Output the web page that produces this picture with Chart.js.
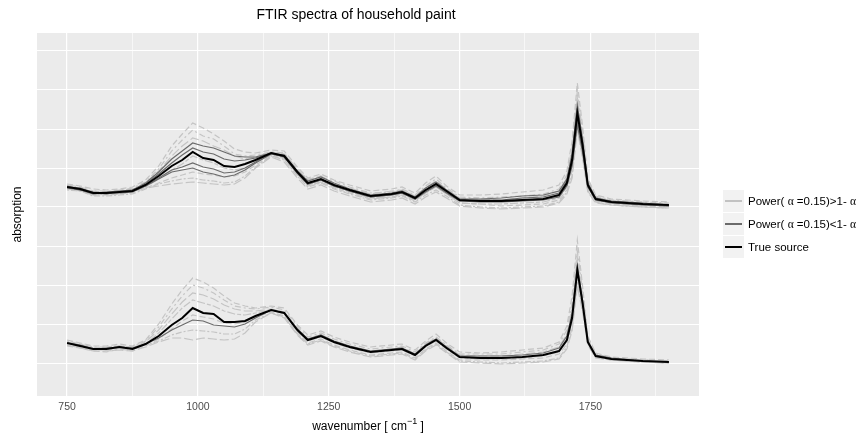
<!DOCTYPE html>
<html lang="en">
<head>
<meta charset="UTF-8">
<title>FTIR spectra of household paint</title>
<script src="https://cdn.jsdelivr.net/npm/chart.js"></script>
<style>
  * { margin: 0; padding: 0; box-sizing: border-box; }
  body { width: 862px; height: 434px; background: #fff; position: relative; overflow: hidden;
         font-family: "Liberation Sans", Arial, sans-serif; }
  #chart { position: absolute; left: 0; top: 0; }
  .legend { position: absolute; left: 723px; top: 189px; }
  .legend .item { display: flex; align-items: center; height: 23px; }
  .legend .key { width: 21px; height: 22px; background: #f2f2f2; position: relative; margin-right: 4px; }
  .legend .key span { position: absolute; left: 2px; right: 2px; top: 10px; height: 2px; }
  .legend .lbl { font-size: 11.5px; color: #000; white-space: nowrap; }
  .legend .a { font-family: "Liberation Serif", "DejaVu Serif", serif; }
</style>
</head>
<body>
<canvas id="chart" width="862" height="434"></canvas>
<div class="legend">
  <div class="item"><div class="key"><span style="background:#c2c2c2"></span></div><div class="lbl">Power( <span class="a">α</span> =0.15)&gt;1- <span class="a">α</span></div></div>
  <div class="item"><div class="key"><span style="background:#6b6b6b"></span></div><div class="lbl">Power( <span class="a">α</span> =0.15)&lt;1- <span class="a">α</span></div></div>
  <div class="item"><div class="key"><span style="background:#000"></span></div><div class="lbl">True source</div></div>
</div>

<script>
  // wavenumbers shared by every spectrum
  const wavenumber = [750, 775, 800, 825, 850, 875, 900, 925, 950, 970, 990, 1010, 1030, 1050, 1070, 1090, 1110, 1140, 1165, 1190,
    1210, 1235, 1260, 1290, 1330, 1370, 1390, 1415, 1435, 1455, 1475, 1500, 1540, 1580, 1620, 1660, 1690, 1705, 1715, 1725,
    1735, 1745, 1760, 1790, 1850, 1900];

  // upper set of spectra (shifted up)
  const trueUpper = [2.09,2.07,2.03,2.03,2.04,2.05,2.11,2.20,2.30,2.36,2.44,2.38,2.36,2.30,2.29,2.32,2.36,2.43,2.40,2.24,2.13,2.17,2.11,2.06,2.00,2.02,2.04,1.98,2.06,2.12,2.05,1.96,1.95,1.95,1.96,1.97,2.01,2.13,2.36,2.83,2.51,2.11,1.97,1.94,1.92,1.91];
  const darkUpper1 = [2.09,2.08,2.03,2.04,2.05,2.06,2.13,2.24,2.37,2.45,2.53,2.50,2.48,2.44,2.40,2.39,2.39,2.43,2.41,2.25,2.15,2.19,2.13,2.07,2.01,2.03,2.05,1.99,2.08,2.14,2.06,1.97,1.97,1.98,2.00,2.01,2.05,2.17,2.42,2.91,2.56,2.13,1.98,1.95,1.93,1.91];
  const darkUpper2 = [2.10,2.07,2.04,2.03,2.04,2.06,2.12,2.22,2.33,2.41,2.48,2.44,2.42,2.37,2.35,2.36,2.38,2.43,2.40,2.23,2.12,2.16,2.10,2.05,1.99,2.01,2.03,1.97,2.05,2.11,2.04,1.95,1.96,1.96,1.98,1.99,2.03,2.15,2.40,2.86,2.53,2.12,1.98,1.94,1.92,1.90];
  const darkUpper3 = [2.08,2.06,2.02,2.03,2.03,2.04,2.10,2.18,2.26,2.29,2.33,2.29,2.27,2.23,2.24,2.28,2.34,2.43,2.39,2.24,2.13,2.16,2.11,2.05,2.00,2.02,2.03,1.98,2.05,2.11,2.04,1.96,1.95,1.95,1.96,1.97,2.00,2.11,2.32,2.76,2.47,2.10,1.97,1.94,1.92,1.91];
  const darkUpper4 = [2.09,2.06,2.03,2.02,2.04,2.05,2.10,2.17,2.24,2.26,2.28,2.24,2.22,2.19,2.21,2.26,2.33,2.42,2.39,2.23,2.12,2.16,2.10,2.05,1.99,2.01,2.03,1.97,2.04,2.10,2.03,1.95,1.94,1.94,1.95,1.96,1.99,2.10,2.30,2.71,2.44,2.09,1.96,1.93,1.91,1.90];
  const lightUpper1 = [2.12,2.10,2.07,2.06,2.07,2.09,2.16,2.30,2.50,2.62,2.73,2.68,2.62,2.55,2.47,2.44,2.43,2.46,2.45,2.29,2.18,2.22,2.16,2.11,2.05,2.07,2.09,2.03,2.13,2.20,2.10,2.01,2.01,2.02,2.04,2.06,2.11,2.25,2.55,3.13,2.70,2.18,2.01,1.97,1.95,1.94];
  const lightUpper2 = [2.10,2.06,2.05,2.05,2.05,2.08,2.14,2.27,2.45,2.56,2.66,2.60,2.57,2.50,2.42,2.40,2.41,2.44,2.43,2.26,2.17,2.19,2.15,2.09,2.03,2.04,2.07,2.01,2.10,2.17,2.08,1.99,1.98,1.99,2.00,2.02,2.07,2.21,2.49,3.05,2.64,2.16,2.00,1.96,1.94,1.93];
  const lightUpper3 = [2.08,2.08,2.04,2.02,2.05,2.06,2.13,2.25,2.40,2.50,2.58,2.55,2.50,2.46,2.40,2.37,2.39,2.44,2.42,2.27,2.16,2.20,2.12,2.08,2.02,2.05,2.06,2.00,2.08,2.15,2.07,1.98,1.97,1.96,1.98,2.00,2.05,2.18,2.45,2.98,2.60,2.14,1.99,1.95,1.93,1.92];
  const lightUpper4 = [2.07,2.06,2.01,2.02,2.02,2.04,2.09,2.17,2.26,2.32,2.40,2.36,2.33,2.28,2.26,2.28,2.33,2.41,2.38,2.22,2.11,2.14,2.09,2.04,1.98,1.99,2.02,1.96,2.03,2.09,2.02,1.93,1.92,1.92,1.93,1.94,1.98,2.09,2.30,2.92,2.52,2.10,1.96,1.93,1.91,1.90];
  const lightUpper5 = [2.07,2.05,2.01,2.01,2.02,2.03,2.08,2.13,2.18,2.21,2.24,2.22,2.21,2.19,2.20,2.24,2.31,2.40,2.37,2.21,2.10,2.14,2.08,2.03,1.97,1.99,2.01,1.95,2.03,2.09,2.02,1.93,1.92,1.90,1.91,1.92,1.96,2.06,2.25,2.78,2.44,2.07,1.95,1.92,1.90,1.89];
  const lightUpper6 = [2.06,2.05,2.00,2.00,2.01,2.02,2.07,2.12,2.15,2.17,2.18,2.16,2.15,2.13,2.14,2.20,2.29,2.40,2.36,2.20,2.09,2.13,2.07,2.02,1.96,1.98,2.00,1.94,2.01,2.06,2.00,1.91,1.89,1.88,1.89,1.90,1.94,2.04,2.20,2.70,2.40,2.05,1.94,1.91,1.89,1.88];
  const lightUpper7 = [2.11,2.09,2.05,2.04,2.06,2.07,2.08,2.10,2.12,2.13,2.14,2.13,2.12,2.11,2.12,2.18,2.28,2.39,2.34,2.18,2.07,2.11,2.05,2.00,1.94,1.96,1.98,1.92,1.99,2.04,1.98,1.90,1.88,1.87,1.88,1.89,1.93,2.02,2.18,2.66,2.38,2.04,1.93,1.91,1.89,1.88];

  // lower set of spectra
  const trueLower = [0.53,0.50,0.47,0.47,0.49,0.47,0.52,0.60,0.71,0.78,0.88,0.83,0.82,0.74,0.74,0.75,0.80,0.86,0.83,0.66,0.56,0.60,0.54,0.49,0.44,0.46,0.47,0.41,0.50,0.56,0.48,0.39,0.38,0.38,0.39,0.41,0.45,0.56,0.78,1.26,0.93,0.54,0.40,0.37,0.35,0.34];
  const darkLower1 = [0.53,0.51,0.47,0.48,0.49,0.48,0.52,0.58,0.66,0.71,0.76,0.75,0.71,0.70,0.69,0.72,0.78,0.86,0.83,0.67,0.57,0.61,0.55,0.50,0.45,0.47,0.48,0.42,0.51,0.57,0.49,0.40,0.40,0.40,0.41,0.43,0.48,0.60,0.82,1.30,0.95,0.55,0.41,0.38,0.35,0.34];
  const lightLower1 = [0.56,0.53,0.50,0.50,0.52,0.50,0.56,0.72,0.92,1.06,1.18,1.14,1.08,1.00,0.93,0.90,0.88,0.90,0.88,0.71,0.61,0.65,0.59,0.54,0.49,0.51,0.52,0.46,0.55,0.62,0.53,0.44,0.43,0.44,0.46,0.48,0.54,0.70,1.00,1.56,1.10,0.60,0.43,0.39,0.37,0.36];
  const lightLower2 = [0.52,0.52,0.49,0.49,0.50,0.49,0.55,0.69,0.87,1.00,1.11,1.08,1.03,0.96,0.90,0.88,0.87,0.89,0.86,0.69,0.59,0.63,0.57,0.52,0.47,0.49,0.50,0.44,0.53,0.59,0.51,0.42,0.42,0.42,0.44,0.46,0.52,0.66,0.93,1.45,1.05,0.58,0.42,0.38,0.36,0.35];
  const lightLower3 = [0.54,0.51,0.48,0.46,0.50,0.48,0.54,0.66,0.82,0.94,1.03,1.01,0.97,0.91,0.87,0.85,0.85,0.87,0.84,0.67,0.57,0.61,0.55,0.50,0.45,0.47,0.49,0.42,0.52,0.58,0.50,0.41,0.40,0.40,0.42,0.44,0.49,0.62,0.88,1.38,1.01,0.57,0.42,0.38,0.36,0.35];
  const lightLower4 = [0.51,0.49,0.46,0.46,0.48,0.46,0.52,0.63,0.77,0.88,0.96,0.93,0.90,0.85,0.82,0.81,0.83,0.86,0.82,0.65,0.55,0.59,0.53,0.48,0.43,0.45,0.46,0.40,0.49,0.55,0.47,0.38,0.37,0.37,0.38,0.40,0.44,0.55,0.76,1.30,0.96,0.55,0.40,0.37,0.35,0.34];
  const lightLower5 = [0.50,0.48,0.45,0.44,0.47,0.45,0.50,0.57,0.67,0.75,0.81,0.79,0.77,0.73,0.72,0.74,0.79,0.84,0.80,0.63,0.53,0.57,0.51,0.46,0.41,0.43,0.44,0.38,0.47,0.53,0.45,0.36,0.36,0.36,0.37,0.38,0.42,0.52,0.72,1.20,0.90,0.53,0.39,0.36,0.34,0.33];
  const lightLower6 = [0.55,0.52,0.48,0.49,0.50,0.49,0.51,0.55,0.61,0.64,0.66,0.65,0.64,0.62,0.62,0.67,0.76,0.83,0.79,0.62,0.52,0.56,0.50,0.45,0.40,0.42,0.43,0.37,0.46,0.52,0.44,0.35,0.34,0.33,0.34,0.35,0.38,0.49,0.68,1.15,0.87,0.52,0.39,0.36,0.34,0.33];
  const lightLower7 = [0.51,0.48,0.45,0.45,0.46,0.45,0.49,0.54,0.58,0.58,0.56,0.58,0.57,0.56,0.57,0.63,0.74,0.83,0.78,0.61,0.51,0.55,0.49,0.44,0.39,0.41,0.42,0.36,0.45,0.51,0.43,0.34,0.33,0.32,0.33,0.34,0.37,0.47,0.65,1.10,0.84,0.51,0.38,0.36,0.34,0.33];

  // axis breaks
  const xTicks = [750, 875, 1000, 1125, 1250, 1375, 1500, 1625, 1750, 1875];
  const xLabels = [750, 1000, 1250, 1500, 1750];
  const yGrid = [0.33, 0.72, 1.11, 1.50, 1.89, 2.28, 2.67, 3.06, 3.45];

  const trueSeries = [trueUpper, trueLower];
  const darkSeries = [darkUpper1, darkUpper2, darkUpper3, darkUpper4, darkLower1];
  const lightSeries = [lightUpper1, lightUpper2, lightUpper3, lightUpper4, lightUpper5, lightUpper6, lightUpper7,
    lightLower1, lightLower2, lightLower3, lightLower4, lightLower5, lightLower6, lightLower7];
  const dashes = [[6, 3], [2, 3, 6, 3], [9, 3], [4, 2, 8, 2], [6, 3], [2, 2, 6, 2], [9, 3]];

  function line(vals, color, width, dash) {
    return {
      data: vals.map((v, i) => ({x: wavenumber[i], y: v})),
      borderColor: color,
      borderWidth: width,
      borderDash: dash || [],
      pointRadius: 0,
      fill: false,
      tension: 0
    };
  }

  // first dataset ends up on top
  const datasets = [];
  trueSeries.forEach(s => datasets.push(line(s, '#000000', 2)));
  darkSeries.forEach(s => datasets.push(line(s, '#6b6b6b', 1.2)));
  lightSeries.forEach((s, i) => datasets.push(line(s, '#c4c4c4', 1.2, dashes[i % dashes.length])));

  const FONT = '"Liberation Sans", Arial, sans-serif';

  // grey panel behind the grid
  const panelBg = {
    id: 'panelBg',
    beforeDraw(chart) {
      const a = chart.chartArea, c = chart.ctx;
      c.save();
      c.fillStyle = '#ebebeb';
      c.fillRect(a.left, a.top, a.right - a.left, a.bottom - a.top);
      c.restore();
    }
  };

  // title and axis titles
  const texts = {
    id: 'texts',
    afterDraw(chart) {
      const a = chart.chartArea, c = chart.ctx;
      const cx = (a.left + a.right) / 2;
      c.save();
      c.fillStyle = '#000';
      c.textAlign = 'center';
      c.textBaseline = 'middle';
      c.font = '14px ' + FONT;
      c.fillText('FTIR spectra of household paint', 356, 15);

      c.font = '12px ' + FONT;
      c.save();
      c.translate(18, (a.top + a.bottom) / 2);
      c.rotate(-Math.PI / 2);
      c.fillText('absorption', 0, 0);
      c.restore();

      // wavenumber [ cm^-1 ]
      const p1 = 'wavenumber [ cm', p2 = '\u22121', p3 = ' ]';
      c.font = '12px ' + FONT;
      const w1 = c.measureText(p1).width, w3 = c.measureText(p3).width;
      c.font = '9px ' + FONT;
      const w2 = c.measureText(p2).width;
      let x = cx - (w1 + w2 + w3) / 2;
      const y = 427;
      c.textAlign = 'left';
      c.font = '12px ' + FONT;
      c.fillText(p1, x, y);
      x += w1;
      c.font = '9px ' + FONT;
      c.fillText(p2, x, y - 5);
      x += w2;
      c.font = '12px ' + FONT;
      c.fillText(p3, x, y);
      c.restore();
    }
  };

  new Chart(document.getElementById('chart'), {
    type: 'line',
    data: {datasets: datasets},
    options: {
      responsive: false,
      animation: false,
      events: [],
      layout: {padding: {left: 37, top: 33, right: 163, bottom: 0}},
      plugins: {legend: {display: false}, tooltip: {enabled: false}},
      scales: {
        x: {
          type: 'linear',
          min: 692.5,
          max: 1957.5,
          afterBuildTicks: s => { s.ticks = xTicks.map(v => ({value: v})); },
          afterFit: s => { s.height = 38; },
          border: {display: false},
          grid: {
            color: '#ffffff',
            drawTicks: false,
            lineWidth: ctx => xLabels.includes(ctx.tick.value) ? 1.2 : 0.6
          },
          ticks: {
            padding: 5,
            autoSkip: false,
            maxRotation: 0,
            color: '#4d4d4d',
            font: {family: FONT, size: 10.5},
            callback: v => xLabels.includes(v) ? String(v) : ''
          }
        },
        y: {
          min: 0,
          max: 3.63,
          afterBuildTicks: s => { s.ticks = yGrid.map(v => ({value: v})); },
          afterFit: s => { s.width = 0; },
          border: {display: false},
          grid: {color: '#ffffff', drawTicks: false, lineWidth: 1},
          ticks: {display: false}
        }
      }
    },
    plugins: [panelBg, texts]
  });
</script>
</body>
</html>
